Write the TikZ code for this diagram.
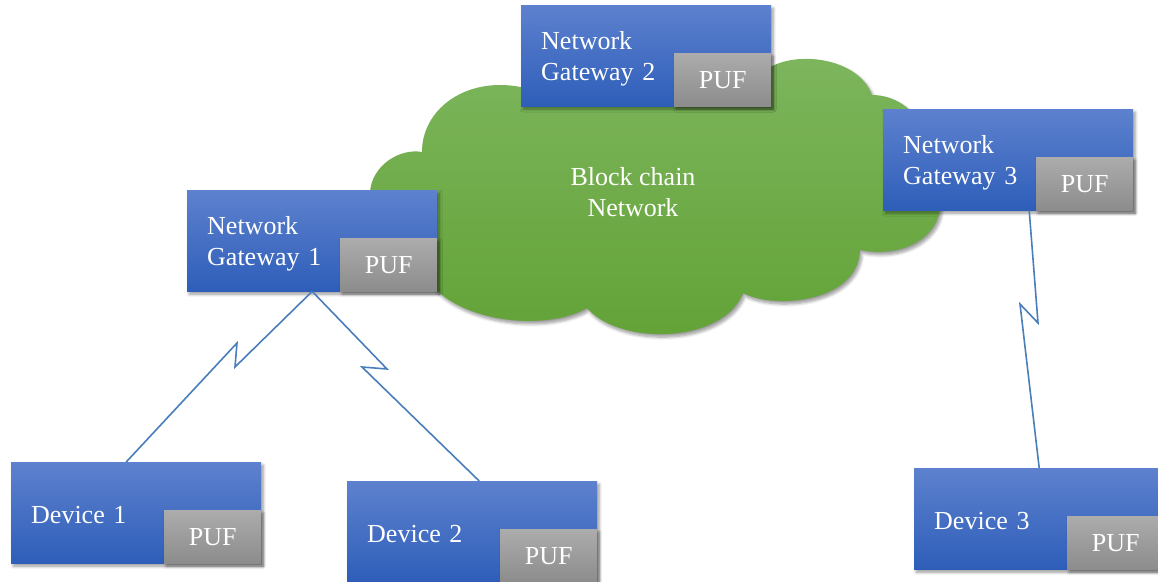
\documentclass[tikz,border=0pt]{standalone}
\usepackage{fontspec}
\setmainfont{Liberation Serif}
\usetikzlibrary{shadows.blur,calc}

\definecolor{boxtop}{RGB}{93,129,206}
\definecolor{boxbot}{RGB}{46,94,185}
\definecolor{puftop}{RGB}{172,172,172}
\definecolor{pufbot}{RGB}{140,140,140}
\definecolor{cloudtop}{RGB}{127,183,96}
\definecolor{cloudbot}{RGB}{98,162,54}
\definecolor{linkblue}{RGB}{74,126,187}

\newcommand{\boxfont}{\fontsize{26}{31}\selectfont}

\tikzset{
  soft shadow/.style={blur shadow={shadow xshift=2pt, shadow yshift=-3pt,
      shadow blur radius=3pt, shadow blur steps=6, shadow opacity=40}},
  unit/.style={rectangle, top color=boxtop, bottom color=boxbot,
      minimum width=250pt, minimum height=101pt, text width=210pt,
      inner xsep=20pt, inner ysep=0pt, align=left, text=white,
      font=\boxfont, anchor=north west, soft shadow},
  gateway/.style={unit, text depth=31pt},
  device/.style={unit, text height=22pt},
  puf/.style={rectangle, top color=puftop, bottom color=pufbot,
      minimum width=97pt, minimum height=53pt, inner sep=0pt,
      text=white, font=\boxfont, anchor=south east, soft shadow},
  link/.style={draw=linkblue, line width=1.6pt, line join=miter},
}

\begin{document}
\begin{tikzpicture}[x=1pt, y=-1pt]
\path[use as bounding box, clip] (0,0) rectangle (1158,581);

% blockchain cloud
\path[top color=cloudtop, bottom color=cloudbot, soft shadow]
  (430,283)
  .. controls (460,322) and (545,332) .. (587,308)
  .. controls (618,345) and (722,345) .. (743,293)
  .. controls (775,310) and (858,302) .. (860,250)
  .. controls (920,262) and (965,215) .. (925,168)
  .. controls (935,125) and (905,95) .. (872,95)
  .. controls (858,55) and (785,48) .. (760,75)
  .. controls (720,30) and (580,40) .. (540,95)
  .. controls (530,88) and (515,85) .. (500,85)
  .. controls (456,85) and (422,114) .. (422,152)
  .. controls (400,148) and (372,165) .. (370,192)
  .. controls (368,230) and (400,270) .. (430,283) -- cycle;
\node[text=white, font=\boxfont, align=center] (chain) at (633,192)
  {Block chain\\Network};

% gateways
\node[gateway] (gw1) at (187,190) {Network\\Gateway 1};
\node[puf] (puf1) at (gw1.south east) {PUF};
\node[gateway] (gw2) at (521,5) {Network\\Gateway 2};
\node[puf] (puf2) at (gw2.south east) {PUF};
\node[gateway] (gw3) at (883,109) {Network\\Gateway 3};
\node[puf] (puf3) at (gw3.south east) {PUF};

% devices
\node[device] (dev1) at (11,462) {Device 1};
\node[puf] (pufd1) at (dev1.south east) {PUF};
\node[device] (dev2) at (347,481) {Device 2};
\node[puf] (pufd2) at (dev2.south east) {PUF};
\node[device] (dev3) at (914,468) {Device 3};
\node[puf] (pufd3) at (dev3.south east) {PUF};

% wireless links (lightning-bolt connectors)
\coordinate (a1) at (235,367);
\coordinate (a2) at (237,343);
\coordinate (b1) at (387,369);
\coordinate (b2) at (362,367);
\coordinate (c1) at (1038,323);
\coordinate (c2) at (1020,304);
\draw[link] (gw1.south) -- (a1) -- (a2) -- ($(dev1.north)+(-10,0)$);
\draw[link] (gw1.south) -- (b1) -- (b2) -- ($(dev2.north)+(7,0)$);
\draw[link] ($(gw3.south)+(21,0)$) -- (c1) -- (c2) -- (dev3.north);
\end{tikzpicture}
\end{document}
